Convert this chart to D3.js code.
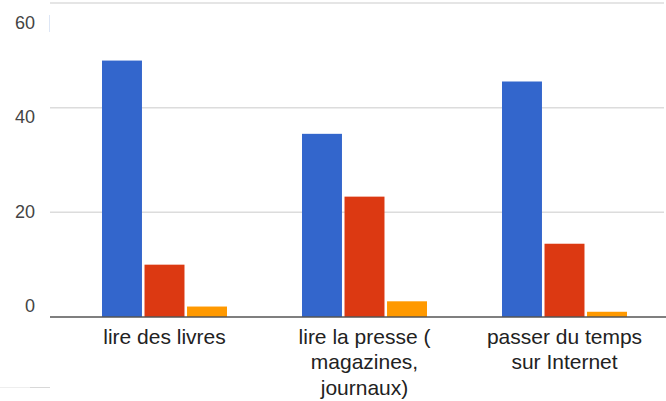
<!DOCTYPE html>
<html lang="fr">
<head>
    <meta charset="UTF-8">
    <title>Activités</title>
    <script src="https://d3js.org/d3.v7.min.js"></script>
    <style>
        body {
            margin: 0;
            padding: 0;
            background: white;
            font-family: Arial, "Liberation Sans", sans-serif;
        }
    </style>
</head>
<body>
    <div id="chart"></div>
    <script>
        // data
        const categories = ["lire des livres", "lire la presse ( magazines, journaux)", "passer du temps sur Internet"]
        const seriesNames = ["s1", "s2", "s3"]
        const s1 = [49, 35, 45]
        const s2 = [10, 23, 14]
        const s3 = [2, 3, 1]
        const yTicks = [0, 20, 40, 60]
        const colors = ["#3366cc", "#dc3912", "#ff9900"]

        const series = [s1, s2, s3]

        const width = 666
        const height = 401

        const svg = d3.select("#chart")
            .append("svg")
                .attr("width", width)
                .attr("height", height)

        // scales
        const x0 = d3.scaleBand()
            .domain(categories)
            .range([64.5, 664.5])
            .paddingInner(0.375)
            .paddingOuter(0.1875)

        const x1 = d3.scaleBand()
            .domain(seriesNames)
            .range([0, x0.bandwidth()])
            .paddingInner(0.06)

        const y = d3.scaleLinear()
            .domain([0, 60])
            .range([317, 3])

        // tick labels sit a bit off the grid lines in the original
        const yLabel = d3.scaleLinear()
            .domain([0, 60])
            .range([305.5, 23])

        // gridlines
        svg.append("g")
            .selectAll("line")
            .data(yTicks.filter(d => d > 0))
            .join("line")
                .attr("x1", 50)
                .attr("x2", 664)
                .attr("y1", d => y(d))
                .attr("y2", d => y(d))
                .attr("stroke", "#dcdcdc")
                .attr("stroke-width", 1.5)

        // y labels
        svg.append("g")
            .selectAll("text")
            .data(yTicks)
            .join("text")
                .attr("x", 35)
                .attr("y", d => yLabel(d))
                .attr("dy", "0.35em")
                .attr("text-anchor", "end")
                .attr("font-size", 18)
                .attr("fill", "#444")
                .text(d => d)

        // bars
        const groups = svg.append("g")
            .selectAll("g")
            .data(categories)
            .join("g")
                .attr("transform", d => `translate(${x0(d)},0)`)

        groups.selectAll("rect")
            .data((d, i) => seriesNames.map((s, j) => ({ key: s, value: series[j][i], color: colors[j] })))
            .join("rect")
                .attr("x", d => x1(d.key))
                .attr("width", x1.bandwidth())
                .attr("y", d => y(d.value))
                .attr("height", d => y(0) - y(d.value))
                .attr("fill", d => d.color)

        // baseline
        svg.append("line")
            .attr("x1", 50)
            .attr("x2", 666)
            .attr("y1", y(0))
            .attr("y2", y(0))
            .attr("stroke", "#555")
            .attr("stroke-width", 1.5)

        // category labels, wrapped
        function wrap(text, maxWidth) {
            text.each(function () {
                const t = d3.select(this)
                const words = t.text().split(/\s+/)
                const xPos = t.attr("x")
                t.text(null)
                let line = []
                let lineNo = 0
                let tspan = t.append("tspan").attr("x", xPos).attr("dy", 0)
                words.forEach(w => {
                    line.push(w)
                    tspan.text(line.join(" "))
                    if (tspan.node().getComputedTextLength() > maxWidth && line.length > 1) {
                        line.pop()
                        tspan.text(line.join(" "))
                        line = [w]
                        lineNo++
                        tspan = t.append("tspan").attr("x", xPos).attr("dy", 25.5).text(w)
                    }
                })
            })
        }

        svg.append("g")
            .selectAll("text")
            .data(categories)
            .join("text")
                .attr("x", d => x0(d) + x0.bandwidth() / 2)
                .attr("y", 343.5)
                .attr("text-anchor", "middle")
                .attr("font-size", 21)
                .attr("fill", "#222")
                .text(d => d)
                .call(wrap, 172)

        // small leftovers of the screenshot
        svg.append("line")
            .attr("x1", 49.5).attr("x2", 49.5)
            .attr("y1", 15).attr("y2", 32)
            .attr("stroke", "#dde6f5")
        svg.append("line")
            .attr("x1", 0).attr("x2", 50)
            .attr("y1", 387.5).attr("y2", 387.5)
            .attr("stroke", "#eeeeee")
        svg.append("line")
            .attr("x1", 30).attr("x2", 50)
            .attr("y1", 387.5).attr("y2", 387.5)
            .attr("stroke", "#d8d8d8")
    </script>
</body>
</html>
